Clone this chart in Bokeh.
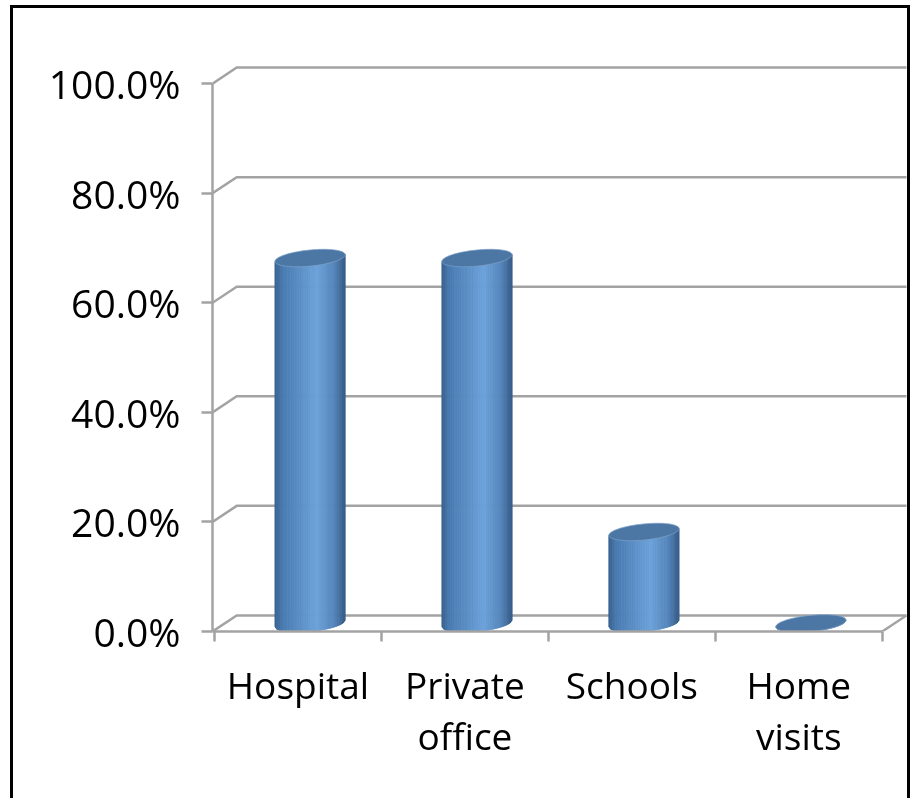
import numpy as np
from bokeh.plotting import figure
from bokeh.models import Range1d, FixedTicker, LinearAxis
from bokeh.embed import file_html
from bokeh.resources import INLINE

# ---- data ----
categories = ["Hospital", "Private\noffice", "Schools", "Home\nvisits"]
values = [66.7, 66.7, 16.7, 0.0]
y_ticks = [0, 20, 40, 60, 80, 100]
y_tick_labels = ["0.0%", "20.0%", "40.0%", "60.0%", "80.0%", "100.0%"]

# ---- layout / style constants ----
SX = 165.5          # px per category unit
SY = 5.45           # px per percent
X0 = -0.012
DX = 24 / SX        # depth offset (data units)
DY = 16 / SY
W, H = 894, 790
ML, MR, MT, MB = 199, 4, 45, 170
FW = W - ML - MR
FH = H - MT - MB
GRAY = "#a3a3a3"
FONT = "Open Sans"

p = figure(width=W, height=H,
           x_range=Range1d(X0, X0 + FW / SX), y_range=Range1d(0, FH / SY),
           output_backend="svg", toolbar_location=None,
           min_border_left=ML, min_border_right=MR,
           min_border_top=MT, min_border_bottom=MB,
           x_axis_type=None, y_axis_type=None)
p.outline_line_color = None
p.background_fill_color = "white"
p.border_fill_color = "white"
p.styles = {"position": "fixed", "left": "10px", "top": "5px",
            "box-sizing": "content-box",
            "border-top": "3px solid black", "border-left": "3px solid black",
            "border-right": "3px solid black", "border-bottom": "none"}

# y axis
yax = LinearAxis(ticker=FixedTicker(ticks=y_ticks, minor_ticks=[]),
                 major_label_overrides={t: l for t, l in zip(y_ticks, y_tick_labels)},
                 bounds=(0, 100),
                 axis_line_color=GRAY, axis_line_width=2.5,
                 major_tick_line_color=GRAY, major_tick_line_width=2.5,
                 major_tick_out=11, major_tick_in=0,
                 minor_tick_line_color=None,
                 major_label_text_font=FONT, major_label_text_font_size="39px",
                 major_label_text_color="black", major_label_standoff=21)
p.add_layout(yax, "left")

# x axis
centers = [i + 0.5 for i in range(len(categories))]
bounds_ticks = [float(i) for i in range(len(categories) + 1)]
xax = LinearAxis(ticker=FixedTicker(ticks=centers, minor_ticks=bounds_ticks),
                 major_label_overrides={c: n for c, n in zip(centers, categories)},
                 bounds=(X0, float(len(categories))),
                 axis_line_color=GRAY, axis_line_width=2.5,
                 major_tick_line_color=None,
                 minor_tick_line_color=GRAY, minor_tick_line_width=2.5,
                 minor_tick_out=10, minor_tick_in=0,
                 major_label_text_font=FONT, major_label_text_font_size="37px",
                 major_label_text_color="black", major_label_standoff=17,
                 major_label_text_line_height=1.0)
p.add_layout(xax, "below")

# back-wall gridlines with perspective step
n = len(categories)
gx = [[X0, X0 + DX, n + DX] for _ in y_ticks]
gy = [[t, t + DY, t + DY] for t in y_ticks]
p.multi_line(gx, gy, line_color=GRAY, line_width=2.5, line_join="miter")
p.line([n, n + DX], [0, DY], line_color=GRAY, line_width=2.5)

# cylinders
a, b, th = 35.0, 8.0, 0.1
c, s = np.cos(th), np.sin(th)
xmax = np.sqrt(a * a * c * c + b * b * s * s)


def lower(X):
    A = s * s / a ** 2 + c * c / b ** 2
    B = 2 * X * c * s * (1 / a ** 2 - 1 / b ** 2)
    C = X * X * (c * c / a ** 2 + s * s / b ** 2) - 1
    disc = np.clip(B * B - 4 * A * C, 0, None)
    return (-B - np.sqrt(disc)) / (2 * A)


stops_u = [0.0, 0.12, 0.6, 0.85, 1.0]
stops_c = np.array([[56, 96, 142], [74, 124, 178], [108, 162, 218],
                    [84, 133, 186], [54, 90, 134]])


def grad(u):
    r = [int(round(np.interp(u, stops_u, stops_c[:, k]))) for k in range(3)]
    return "#%02x%02x%02x" % tuple(r)


NS = 40
edges = np.linspace(-xmax, xmax, NS + 1)
sxs, sys_, scol = [], [], []
txs, tys = [], []
tt = np.linspace(0, 2 * np.pi, 90)
for i, v in enumerate(values):
    cx = i + 0.5 + DX / 2
    cy = DY / 2
    hpx = v * SY
    for k in range(NS):
        X1, X2 = edges[k], edges[k + 1]
        Xs = np.array([X1, X2, X2, X1])
        Ys = np.array([lower(X1), lower(X2), hpx + X2 * np.tan(th), hpx + X1 * np.tan(th)])
        sxs.append(list(cx + Xs / SX))
        sys_.append(list(cy + Ys / SY))
        scol.append(grad((k + 0.5) / NS))
    EX = a * np.cos(tt) * c - b * np.sin(tt) * s
    EY = a * np.cos(tt) * s + b * np.sin(tt) * c
    txs.append(list(cx + EX / SX))
    tys.append(list(cy + v + EY / SY))

p.patches(sxs, sys_, fill_color=scol, line_color=scol, line_width=0.8)
p.patches(txs, tys, fill_color="#4c77a5", line_color="#7fa3ca", line_width=1, line_alpha=0.7)

open("out.html", "w").write(file_html(p, INLINE))
